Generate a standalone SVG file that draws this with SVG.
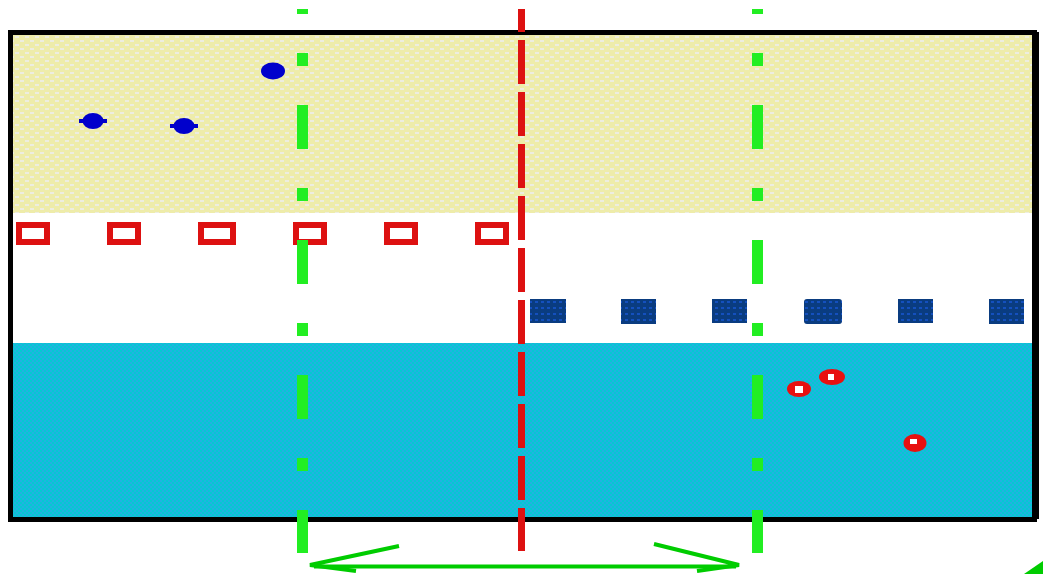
<svg xmlns="http://www.w3.org/2000/svg" width="1043" height="574" viewBox="0 0 1043 574">
<defs>
<pattern id="sand" width="10" height="8" patternUnits="userSpaceOnUse">
<rect width="10" height="8" fill="#EEECAA"/>
<rect x="0" y="0" width="4" height="2" fill="#EDEDE0"/>
<rect x="5" y="4" width="4" height="2" fill="#EDEDE0"/>
</pattern>
<pattern id="water" width="4" height="4" patternUnits="userSpaceOnUse">
<rect width="4" height="4" fill="#04C8D2"/>
<rect x="0" y="0" width="2" height="2" fill="#22B2E0"/>
<rect x="2" y="2" width="2" height="2" fill="#22B2E0"/>
</pattern>
<pattern id="navy" width="6" height="6" patternUnits="userSpaceOnUse">
<rect width="6" height="6" fill="#0A3C80"/>
<rect x="1" y="1" width="3" height="2" fill="#1450BE"/>
</pattern>
<style>
.hollow{fill:none;stroke:#DD1111;stroke-width:6}
.block{fill:url(#navy)}
.stone{fill:#0000CC}
.spot{fill:#E81010}
.hole{fill:#FFFFFF}
.green{stroke:#22EE22;stroke-width:11;fill:none;stroke-dasharray:44 39 13 39;stroke-dashoffset:39}
.red{stroke:#DD1111;stroke-width:7;fill:none;stroke-dasharray:44 8;stroke-dashoffset:21}
.arrow{stroke:#00CC00;fill:none;stroke-width:4}
</style>
</defs>
<g id="bands">
<rect x="10" y="32" width="1024" height="181" fill="url(#sand)"/>
<rect x="10" y="213" width="1024" height="130" fill="#FFFFFF"/>
<rect x="10" y="343" width="1024" height="176" fill="url(#water)"/>
</g>
<g id="frame">
<rect x="10.5" y="32.5" width="1024" height="487" fill="none" stroke="#000000" stroke-width="5"/>
<rect x="1032" y="32" width="7" height="487" fill="#000000"/>
</g>
<g id="stones">
<g id="stone1"><ellipse cx="93" cy="121" rx="10.5" ry="8" class="stone"/><rect x="79" y="119" width="28" height="4" class="stone"/></g>
<g id="stone2"><ellipse cx="184" cy="126" rx="10.5" ry="8" class="stone"/><rect x="170" y="124" width="28" height="4" class="stone"/></g>
<g id="stone3"><ellipse cx="273" cy="71" rx="12" ry="8.5" class="stone"/></g>
</g>
<g id="hollow-row">
<rect id="h1" x="19" y="225" width="28" height="17" class="hollow"/>
<rect id="h2" x="110" y="225" width="28" height="17" class="hollow"/>
<rect id="h3" x="201" y="225" width="32" height="17" class="hollow"/>
<rect id="h4" x="296" y="225" width="28" height="17" class="hollow"/>
<rect id="h5" x="387" y="225" width="28" height="17" class="hollow"/>
<rect id="h6" x="478" y="225" width="28" height="17" class="hollow"/>
</g>
<g id="block-row">
<rect id="b1" x="530" y="299" width="36" height="24" class="block"/>
<rect id="b2" x="621" y="299" width="35" height="25" class="block"/>
<rect id="b3" x="712" y="299" width="35" height="24" class="block"/>
<rect id="b4" x="804" y="299" width="38" height="25" rx="3" class="block"/>
<rect id="b5" x="898" y="299" width="35" height="24" class="block"/>
<rect id="b6" x="989" y="299" width="35" height="25" class="block"/>
</g>
<g id="spots">
<g id="spot1"><ellipse cx="799" cy="389" rx="12" ry="8" class="spot"/><rect x="795" y="386" width="8" height="7" class="hole"/></g>
<g id="spot2"><ellipse cx="832" cy="377" rx="13" ry="8" class="spot"/><rect x="828" y="374" width="6" height="6" class="hole"/></g>
<g id="spot3"><ellipse cx="915" cy="443" rx="11.5" ry="9" class="spot"/><rect x="910" y="439" width="7" height="5" class="hole"/></g>
</g>
<g id="connectors">
<line x1="302.5" y1="9" x2="302.5" y2="553" class="green"/>
<line x1="757.5" y1="9" x2="757.5" y2="553" class="green"/>
<line x1="521.5" y1="9" x2="521.5" y2="551" class="red"/>
<line x1="314" y1="566.5" x2="736" y2="566.5" class="arrow" stroke-width="5"/>
<polyline points="399,546 310,565 356,571" class="arrow"/>
<polyline points="654,544 739,565 697,571" class="arrow"/>
<polygon points="1024,574 1043,561 1043,574" fill="#00CC00"/>
</g>
</svg>
